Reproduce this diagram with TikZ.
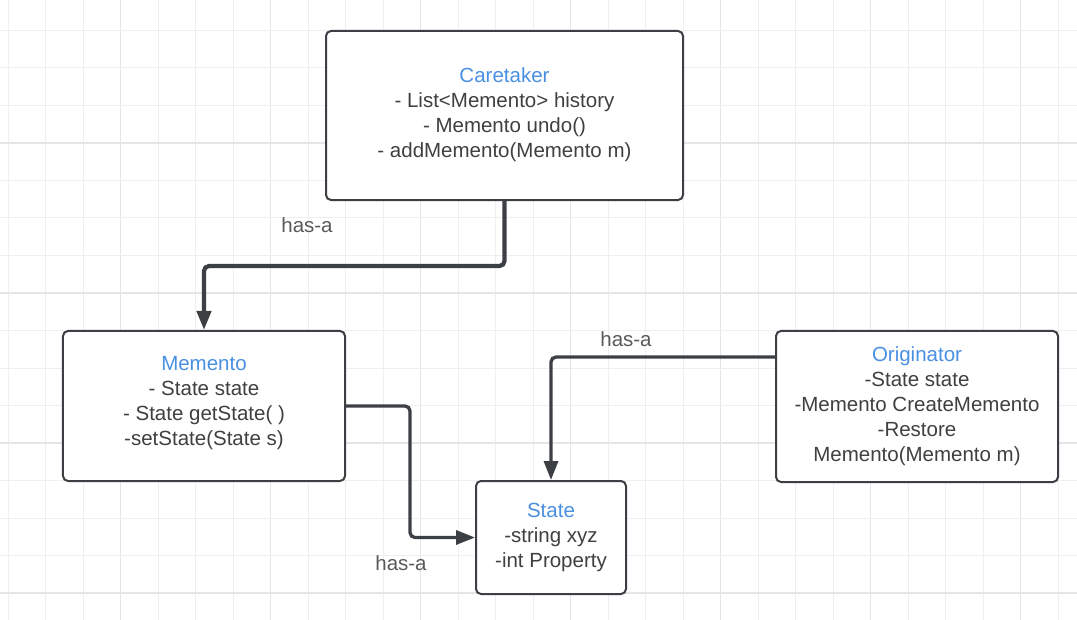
\documentclass[tikz,border=0pt]{standalone}
\usepackage{fontspec}
\setmainfont{Liberation Sans}
\usetikzlibrary{arrows.meta}
\definecolor{gridlight}{RGB}{239,239,239}
\definecolor{griddark}{RGB}{229,229,229}
\definecolor{boxline}{RGB}{60,63,68}
\definecolor{titleblue}{RGB}{74,144,226}
\definecolor{bodytext}{RGB}{64,64,64}
\definecolor{labeltext}{RGB}{90,90,90}
\tikzset{
  umlbox/.style={draw=boxline, line width=2bp, rounded corners=5bp, fill=white,
    align=center, inner sep=0pt, text=bodytext,
    font=\fontsize{20.5bp}{25bp}\selectfont},
  conn/.style={draw=boxline, line width=3.3bp, rounded corners=5bp,
    -{Triangle[length=19bp,width=14bp]}},
  connthick/.style={conn, line width=4.2bp},
  haslabel/.style={text=labeltext, inner sep=0pt, font=\fontsize{20.5bp}{25bp}\selectfont},
}
\newcommand{\ttl}[1]{\textcolor{titleblue}{#1}}
\begin{document}
\begin{tikzpicture}[x=1bp,y=-1bp]
\fill[white] (0,0) rectangle (1077,620);
\useasboundingbox (0,0) rectangle (1077,620);
% grid
\foreach \k in {0,...,28} {
  \pgfmathtruncatemacro{\m}{mod(\k,4)}
  \ifnum\m=3
    \draw[griddark, line width=1.2bp] ({8+37.5*\k},0) -- ({8+37.5*\k},620);
  \else
    \draw[gridlight, line width=1bp] ({8+37.5*\k},0) -- ({8+37.5*\k},620);
  \fi
}
\foreach \k in {0,...,15} {
  \pgfmathtruncatemacro{\m}{mod(\k,4)}
  \ifnum\m=3
    \draw[griddark, line width=1.2bp] (0,{30.5+37.5*\k}) -- (1077,{30.5+37.5*\k});
  \else
    \draw[gridlight, line width=1bp] (0,{30.5+37.5*\k}) -- (1077,{30.5+37.5*\k});
  \fi
}
% boxes
\node[umlbox, minimum width=357bp, minimum height=169bp] (care) at (504.5,115.5)
  {\ttl{Caretaker}\\- List<Memento> history\\- Memento undo()\\- addMemento(Memento m)\\[-19bp]};
\node[umlbox, minimum width=282bp, minimum height=150bp] (mem) at (204,406)
  {\ttl{Memento}\\- State state\\- State getState( )\\-setState(State s)\\[-14bp]};
\node[umlbox, minimum width=150bp, minimum height=113bp] (state) at (551,537.5)
  {\ttl{State}\\-string xyz\\-int Property};
\node[umlbox, minimum width=282bp, minimum height=151bp] (orig) at (917,406.5)
  {\ttl{Originator}\\-State state\\-Memento CreateMemento\\-Restore\\Memento(Memento m)};
% connectors
\draw[connthick] (care.south) -- ++(0,65) -| (mem.north);
\draw[conn] (mem.east) -- ++(64,0) |- (state.west);
\draw[conn] ([yshift=-27bp]orig.north west) -| (state.north);
% labels
\node[haslabel] (l1) at (307,225) {has-a};
\node[haslabel] (l2) at (626,339) {has-a};
\node[haslabel] (l3) at (401,563) {has-a};
\end{tikzpicture}
\end{document}
